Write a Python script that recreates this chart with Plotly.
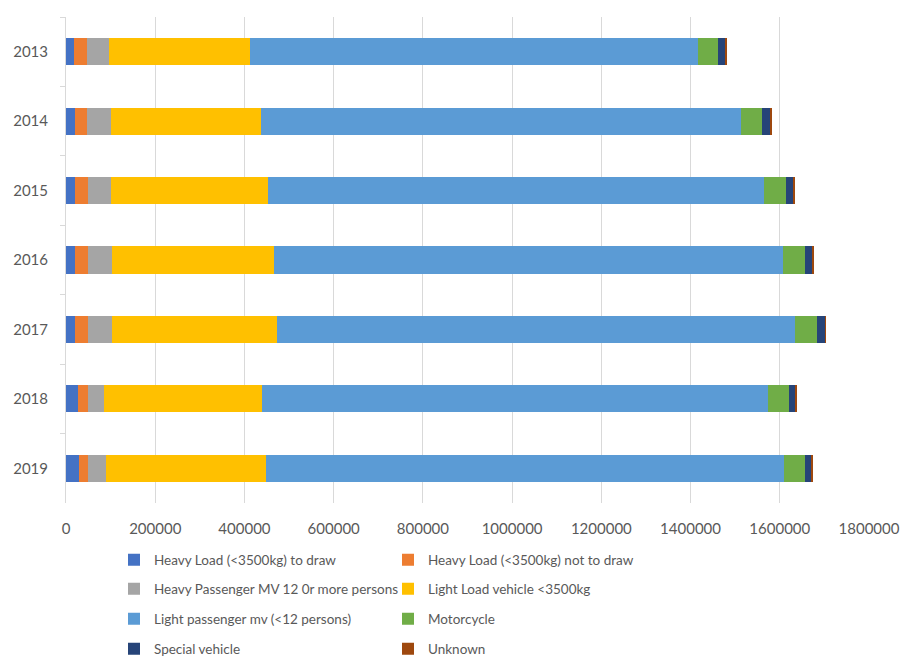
import plotly.graph_objects as go

years = ["2013", "2014", "2015", "2016", "2017", "2018", "2019"]

heavy_load_draw = [18000, 20000, 21000, 21000, 21000, 26000, 28500]
heavy_load_not_draw = [28500, 28000, 28000, 28000, 28000, 22500, 21000]
heavy_passenger = [50000, 52000, 52000, 53000, 54000, 36700, 39700]
light_load = [317000, 337000, 352000, 365000, 370000, 353500, 359500]
light_passenger = [1004000, 1076000, 1111000, 1141000, 1161000, 1135000, 1161000]
motorcycle = [45000, 48000, 50000, 49000, 50000, 47000, 45800]
special_vehicle = [15700, 18000, 17000, 17000, 18000, 15000, 15700]
unknown = [1500, 1500, 1500, 1500, 1500, 1500, 1500]

series_names = [
    "Heavy Load (<3500kg) to draw",
    "Heavy Load (<3500kg) not to draw",
    "Heavy Passenger MV 12 0r more persons",
    "Light Load vehicle <3500kg",
    "Light passenger mv (<12 persons)",
    "Motorcycle",
    "Special vehicle",
    "Unknown",
]
series_values = [heavy_load_draw, heavy_load_not_draw, heavy_passenger, light_load,
                 light_passenger, motorcycle, special_vehicle, unknown]
colors = ["#4472C4", "#ED7D31", "#A5A5A5", "#FFC000", "#5B9BD5", "#70AD47", "#264478", "#9E480E"]

x_ticks = [0, 200000, 400000, 600000, 800000, 1000000, 1200000, 1400000, 1600000, 1800000]

W, H = 903, 657
plot_top, plot_bottom = 17, 503
row_centers = [560, 589, 619, 649]
col_lefts = [114, 388]

fig = go.Figure()
legend_layout = {}
for i, (name, vals, col) in enumerate(zip(series_names, series_values, colors)):
    lg = "legend" if i == 0 else f"legend{i + 1}"
    fig.add_trace(go.Bar(
        y=years, x=vals, name=name, orientation="h", legend=lg,
        marker=dict(color=col, line=dict(width=0)),
    ))
    r, c = divmod(i, 2)
    legend_layout[lg] = dict(
        orientation="h", xref="container", yref="container",
        x=col_lefts[c] / W, xanchor="left",
        y=(H - row_centers[r]) / H, yanchor="middle",
        font=dict(size=13.5, color="#595959"),
        itemwidth=30, bgcolor="rgba(0,0,0,0)", borderwidth=0,
    )

fig.update_layout(
    barmode="stack",
    bargap=0.61,
    width=W, height=H,
    margin=dict(l=66, r=34, t=plot_top, b=H - plot_bottom),
    paper_bgcolor="white", plot_bgcolor="white",
    font=dict(family="Lato, Open Sans, sans-serif", size=15, color="#595959"),
    showlegend=True,
    **legend_layout,
    xaxis=dict(
        range=[0, 1800000], tickvals=x_ticks, ticktext=[str(v) for v in x_ticks],
        showgrid=True, gridcolor="#d9d9d9", gridwidth=1,
        zeroline=False, showline=False, ticks="",
        tickfont=dict(size=15, color="#595959"),
        automargin=False, ticklabelstandoff=15,
    ),
    yaxis=dict(
        type="category", autorange="reversed",
        showline=True, linecolor="#d9d9d9", linewidth=1,
        ticks="outside", tickson="boundaries", ticklen=5, tickcolor="#d9d9d9",
        showgrid=False, tickfont=dict(size=15, color="#595959"),
        automargin=False, ticklabelstandoff=14,
    ),
)

fig.write_html("out.html")
